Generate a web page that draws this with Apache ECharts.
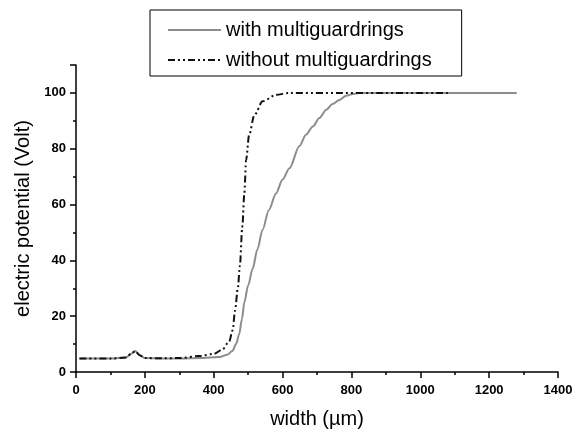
<!DOCTYPE html>
<html>
<head>
<meta charset="utf-8">
<script src="https://cdn.jsdelivr.net/npm/echarts@6/dist/echarts.min.js"></script>
<style>html,body{margin:0;padding:0;background:#fff}#c{width:583px;height:434px}</style>
</head>
<body>
<div id="c"></div>
<script>
// Series names
const seriesNames = ['with multiguardrings', 'without multiguardrings'];
// width (µm) and potential (Volt) — with multiguardrings
const withX = [10, 100, 145, 160, 172, 185, 200, 250, 300, 358, 416, 440, 454, 465, 474, 482, 489, 500, 513, 527, 542, 560, 581, 600, 620, 649, 668, 688, 707, 727, 745, 765, 785, 804, 820, 1280];
const withY = [4.8, 4.8, 5.2, 6.5, 7.5, 6, 5, 4.8, 4.8, 5, 5.4, 6.2, 7.5, 10, 13.5, 19, 25, 31, 37, 44, 51, 58, 64, 69, 73, 81, 85, 88, 91, 94, 96, 97.5, 99, 99.6, 100, 100];
// without multiguardrings
const withoutX = [10, 100, 145, 160, 172, 185, 200, 250, 300, 358, 400, 425, 445, 455, 462, 470, 476, 483, 489, 494, 503, 518, 542, 581, 620, 1080];
const withoutY = [4.8, 4.8, 5.2, 6.5, 7.5, 6, 5, 4.9, 5, 5.7, 6.5, 8, 11, 15, 22, 30, 38, 52, 64, 76, 85, 92, 97, 99.3, 100, 100];
// axes
const xTitle = 'width (\u00b5m)';
const yTitle = 'electric potential (Volt)';
const xRange = [0, 1400];
const yRange = [0, 110];

const pairs = (xs, ys) => xs.map((x, i) => [x, ys[i]]);
const font = 'Liberation Sans, Arial, Helvetica, sans-serif';

const chart = echarts.init(document.getElementById('c'), null, {renderer: 'canvas'});
chart.setOption({
  animation: false,
  backgroundColor: '#fff',
  grid: {left: 76, right: 25, top: 65, bottom: 54, containLabel: false},
  legend: {
    orient: 'vertical',
    left: 150, top: 10,
    padding: [10, 30, 6, 17],
    itemGap: 10,
    itemWidth: 53, itemHeight: 14,
    borderColor: '#000', borderWidth: 1,
    itemStyle: {opacity: 0},
    textStyle: {fontFamily: font, fontSize: 20, color: '#000'},
    data: seriesNames
  },
  xAxis: {
    type: 'value', min: xRange[0], max: xRange[1], interval: 200,
    name: xTitle, nameLocation: 'middle', nameGap: 37,
    nameTextStyle: {fontFamily: font, fontSize: 20, color: '#000'},
    axisLine: {show: true, onZero: false, lineStyle: {color: '#000', width: 1.5}},
    axisTick: {show: true, inside: false, length: 6, lineStyle: {color: '#000', width: 1.5}},
    minorTick: {show: true, splitNumber: 2, length: 3, lineStyle: {color: '#000', width: 1.5}},
    axisLabel: {fontFamily: font, fontSize: 13, fontWeight: 'bold', color: '#000', margin: 12, formatter: v => String(v)},
    splitLine: {show: false}
  },
  yAxis: {
    type: 'value', min: yRange[0], max: yRange[1], interval: 20,
    name: yTitle, nameLocation: 'middle', nameGap: 38, nameRotate: 90,
    nameTextStyle: {fontFamily: font, fontSize: 20, color: '#000'},
    axisLine: {show: true, onZero: false, lineStyle: {color: '#000', width: 1.5}},
    axisTick: {show: true, inside: false, length: 6, lineStyle: {color: '#000', width: 1.5}},
    minorTick: {show: true, splitNumber: 2, length: 3, lineStyle: {color: '#000', width: 1.5}},
    axisLabel: {fontFamily: font, fontSize: 13, fontWeight: 'bold', color: '#000', margin: 10, showMaxLabel: false},
    splitLine: {show: false}
  },
  series: [
    {
      name: seriesNames[0], type: 'line', data: pairs(withX, withY),
      symbol: 'none', smooth: 0.3, smoothMonotone: 'x',
      lineStyle: {color: '#8c8c8c', width: 2, type: 'solid'},
      itemStyle: {color: '#8c8c8c'}, z: 2
    },
    {
      name: seriesNames[1], type: 'line', data: pairs(withoutX, withoutY),
      symbol: 'none', smooth: 0.3, smoothMonotone: 'x',
      lineStyle: {color: '#111', width: 2, type: [7, 3, 2, 3, 2, 3]},
      itemStyle: {color: '#111'}, z: 3
    }
  ]
});
</script>
</body>
</html>
